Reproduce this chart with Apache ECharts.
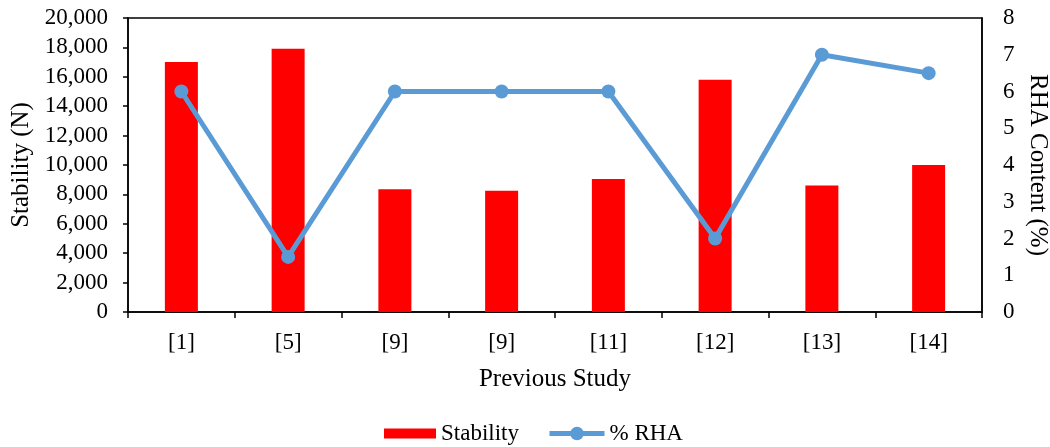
<!DOCTYPE html>
<html>
<head>
<meta charset="utf-8">
<script src="https://cdn.jsdelivr.net/npm/echarts@6/dist/echarts.min.js"></script>
<style>html,body{margin:0;padding:0;background:#fff}#c{width:1050px;height:447px}</style>
</head>
<body>
<div id="c"></div>
<script>
const categories = ['[1]', '[5]', '[9]', '[9]', '[11]', '[12]', '[13]', '[14]'];
const stability = [17000, 17900, 8350, 8250, 9050, 15800, 8600, 10000];
const rha = [6, 1.5, 6, 6, 6, 2, 7, 6.5];

const font = '"Liberation Serif", "Times New Roman", serif';
const chart = echarts.init(document.getElementById('c'), null, {renderer: 'canvas'});
chart.setOption({
  animation: false,
  textStyle: {fontFamily: font, color: '#000'},
  grid: {left: 128, right: 68, top: 18, bottom: 135, show: true, borderColor: '#000', borderWidth: 1.5,
    containLabel: false, outerBoundsMode: 'none'},
  legend: [{
    left: 379, top: 417, itemGap: 0,
    itemWidth: 52, itemHeight: 10,
    textStyle: {fontFamily: font, fontSize: 23, color: '#000'},
    data: [{name: 'Stability', icon: 'rect'}]
  }, {
    left: 542, top: 417,
    itemWidth: 55, itemHeight: 17,
    lineStyle: {width: 5},
    textStyle: {fontFamily: font, fontSize: 23, color: '#000'},
    data: [{name: '% RHA'}]
  }],
  xAxis: {
    type: 'category', data: categories,
    axisLine: {lineStyle: {color: '#000', width: 1.5}},
    axisTick: {show: true, alignWithLabel: false, length: 6, lineStyle: {color: '#000', width: 1.5}},
    axisLabel: {fontFamily: font, fontSize: 23, color: '#000', margin: 19},
    name: 'Previous Study', nameLocation: 'middle', nameGap: 55,
    nameTextStyle: {fontFamily: font, fontSize: 25, color: '#000'}
  },
  yAxis: [{
    type: 'value', min: 0, max: 20000, interval: 2000,
    splitLine: {show: false},
    axisLine: {show: true, lineStyle: {color: '#000', width: 1.5}},
    axisTick: {show: true, length: 5, lineStyle: {color: '#000', width: 1.5}},
    axisLabel: {fontFamily: font, fontSize: 23, color: '#000', margin: 20,
      formatter: v => v.toLocaleString('en-US')},
    name: 'Stability (N)', nameLocation: 'middle', nameGap: 94, nameRotate: 90,
    nameTextStyle: {fontFamily: font, fontSize: 25, color: '#000'}
  }, {
    type: 'value', min: 0, max: 8, interval: 1, position: 'right',
    splitLine: {show: false},
    axisLine: {show: true, lineStyle: {color: '#000', width: 1.5}},
    axisTick: {show: false},
    axisLabel: {fontFamily: font, fontSize: 23, color: '#000', margin: 21},
    name: 'RHA Content (%)', nameLocation: 'middle', nameGap: 31, nameRotate: -90,
    nameTextStyle: {fontFamily: font, fontSize: 25, color: '#000'}
  }],
  series: [{
    name: 'Stability', type: 'bar', data: stability, barWidth: 33,
    itemStyle: {color: '#FF0000'}
  }, {
    name: '% RHA', type: 'line', yAxisIndex: 1, data: rha,
    symbol: 'circle', symbolSize: 14,
    lineStyle: {color: '#5B9BD5', width: 5},
    itemStyle: {color: '#5B9BD5'}
  }]
});
</script>
</body>
</html>
